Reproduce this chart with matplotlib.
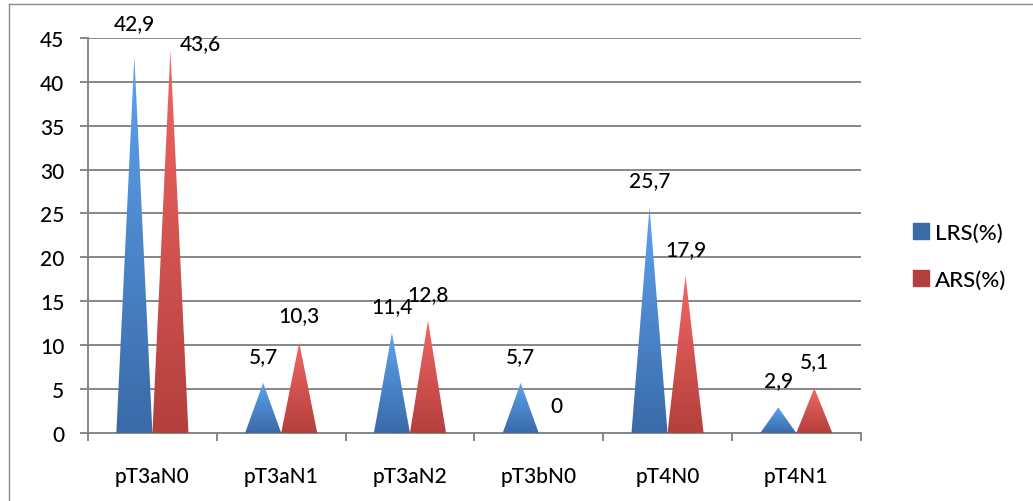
import matplotlib

matplotlib.use("Agg")
import matplotlib.pyplot as plt
import numpy as np
from matplotlib.colors import LinearSegmentedColormap
from matplotlib.patches import Polygon
from matplotlib.lines import Line2D

categories = ["pT3aN0", "pT3aN1", "pT3aN2", "pT3bN0", "pT4N0", "pT4N1"]
lrs = [42.9, 5.7, 11.4, 5.7, 25.7, 2.9]
ars = [43.6, 10.3, 12.8, 0, 17.9, 5.1]
series_names = ["LRS(%)", "ARS(%)"]
y_ticks = [0, 5, 10, 15, 20, 25, 30, 35, 40, 45]

# top (light) -> bottom (dark) of each pyramid
BLUE = ("#5ea3ee", "#3a6aa8")
RED = ("#f26664", "#b3403d")
GRID = "#878787"
FONT = ["Lato", "DejaVu Sans"]
FS = 15

plt.rcParams["font.family"] = FONT
plt.rcParams["font.weight"] = "medium"

fig = plt.figure(figsize=(10.33, 5.02), dpi=100)
ax = fig.add_axes([0.0852, 0.1355, 0.748, 0.787])

x = np.arange(len(categories))
half = 0.14  # offset of each pyramid from the category centre
w = 0.14     # half width of a pyramid base


def pyramid(ax, xc, h, colors):
    if h <= 0:
        return
    tri = Polygon([(xc - w, 0), (xc, h), (xc + w, 0)], closed=True,
                  facecolor="none", edgecolor="none")
    ax.add_patch(tri)
    cmap = LinearSegmentedColormap.from_list("g", [colors[1], colors[0]])
    grad = np.linspace(0, 1, 100).reshape(-1, 1)
    im = ax.imshow(grad, cmap=cmap, origin="lower", aspect="auto",
                   extent=(xc - w, xc + w, 0, h), zorder=3)
    im.set_clip_path(tri)


for i in x:
    pyramid(ax, i - half, lrs[i], BLUE)
    pyramid(ax, i + half, ars[i], RED)


def fmt(v):
    return f"{v:g}".replace(".", ",")


# value labels sit ~27 px above the peak; the first pair is nudged like the original
for i in x:
    for vals, sign, s in ((lrs, -1, 0), (ars, 1, 1)):
        dx, dy = 0, 27
        if i == 0:
            dx, dy = (0, 33) if s == 0 else (30, 7)
        ax.annotate(fmt(vals[i]), (i + sign * half, vals[i]),
                    xytext=(dx, dy), textcoords="offset pixels",
                    ha="center", va="center", fontsize=FS, color="black",
                    annotation_clip=False, zorder=5)

ax.set_xlim(-0.5, len(categories) - 0.5)
ax.set_ylim(0, 45)
ax.set_yticks(y_ticks)
ax.set_xticks(np.arange(len(categories) + 1) - 0.5, minor=False)
ax.set_xticklabels([])
ax.set_xticks(x, minor=True)
ax.set_xticklabels(categories, minor=True)
ax.tick_params(axis="x", which="minor", length=0, pad=24, labelsize=FS)
ax.tick_params(axis="x", which="major", length=6, width=1.4, color=GRID)
ax.tick_params(axis="y", length=6, width=1.4, color=GRID, pad=11, labelsize=FS)

ax.grid(axis="y", color=GRID, linewidth=1.4, zorder=1)
ax.set_axisbelow(True)
for side in ("top", "right"):
    ax.spines[side].set_visible(False)
for side in ("left", "bottom"):
    ax.spines[side].set_color(GRID)
    ax.spines[side].set_linewidth(1.4)

handles = [Line2D([], [], marker="s", linestyle="none", markersize=11,
                  markerfacecolor=c, markeredgecolor=c)
           for c in (BLUE[1], RED[1])]
fig.legend(handles, series_names, loc="center left",
           bbox_to_anchor=(0.864, 0.487), frameon=False,
           prop={"family": FONT, "size": 16, "weight": "medium"},
           handletextpad=0.2, labelspacing=1.2, handlelength=0.8)

# chart border (only top and left visible in the original crop)
fig.add_artist(Line2D([0.0087, 0.0087], [0, 0.991], transform=fig.transFigure,
                      color="#8a8a8a", linewidth=1))
fig.add_artist(Line2D([0.0087, 1.0], [0.991, 0.991], transform=fig.transFigure,
                      color="#8a8a8a", linewidth=1))

fig.savefig("out.png", dpi=100)
plt.close(fig)
